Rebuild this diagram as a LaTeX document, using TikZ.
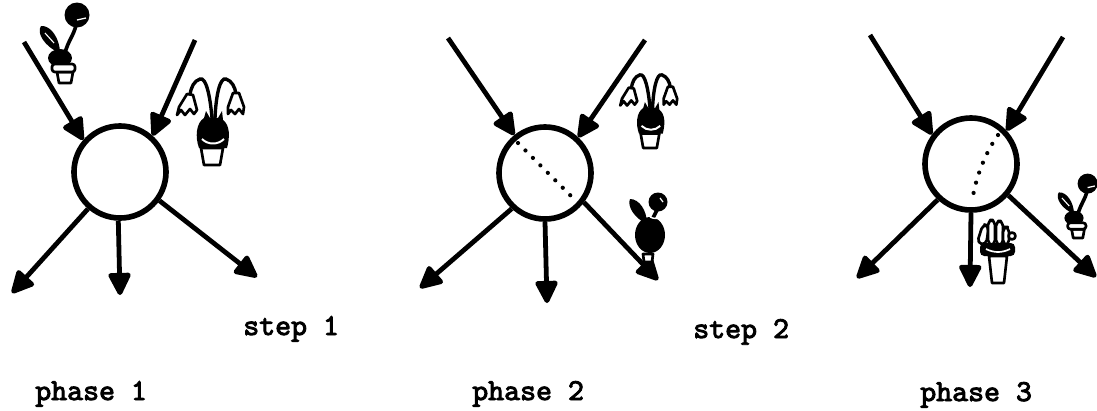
\documentclass[tikz,border=0pt]{standalone}
\usepackage{fontspec}
\newfontfamily\typew{lmmono10-regular.otf}[FakeBold=3]
\usetikzlibrary{arrows.meta,calc}
\tikzset{
  potline/.style={line width=1.9pt,line join=round},
  flowerpot/.pic={
    \draw[potline,fill=white] (-8,-11) -- (8,-11) -- (6,0) -- (-6,0) -- cycle;
    \fill (-5,-25) ellipse (12 and 9);
    \draw[potline,fill=white,rounded corners=2] (-13,-19) rectangle (10,-11);
    \fill (-5,-30) .. controls (-20,-36) and (-29,-50) .. (-24,-57) .. controls (-14,-58) and (-5,-44) .. cycle;
    \draw[white,line width=0.8pt] (-20,-50) -- (-11,-40);
    \draw[line width=2.6pt] (0,-30) .. controls (3,-42) and (9,-48) .. (11,-58);
    \fill (12,-68) circle (12.5);
    \draw[white,line width=0.9pt] (12,-63) .. controls (15,-65) and (18,-63) .. (21,-65);
  },
  darkflower/.pic={
    \fill (2,-27) ellipse (15 and 18);
    \fill (-1,-38) .. controls (-14,-44) and (-21,-56) .. (-18,-63) .. controls (-9,-63) and (-1,-52) .. cycle;
    \draw[line width=2.6pt] (4,-42) -- (9,-52);
    \fill (10,-60) circle (9.5);
    \draw[white,line width=0.9pt] (12,-64) -- (15,-60);
    \draw[white,line width=1pt] (2,-45) .. controls (6,-43) and (10,-43) .. (14,-45);
    \draw[potline,fill=white] (-5,-8) -- (5,-8) -- (4,0) -- (-4,0) -- cycle;
  },
  wilted/.pic={
    \draw[potline,fill=white] (-11,-17) -- (11,-17) -- (8,0) -- (-8,0) -- cycle;
    \fill (-13,-17) .. controls (-17,-28) and (-16,-42) .. (-8,-47) -- (-6,-54) -- (-2,-47)
      .. controls (1,-48) and (4,-48) .. (6,-47) -- (10,-54) -- (11,-45)
      .. controls (18,-40) and (18,-28) .. (15,-17) -- cycle;
    \draw[white,line width=1.4pt] (-10,-26) .. controls (-4,-20) and (6,-20) .. (12,-26);
    \draw[line width=2.4pt] (0,-47) .. controls (-2,-70) and (-6,-88) .. (-12,-86) .. controls (-18,-84) and (-21,-78) .. (-22,-70);
    \draw[line width=2.4pt] (3,-47) .. controls (4,-70) and (8,-88) .. (14,-86) .. controls (20,-84) and (23,-78) .. (24,-71);
    \draw[potline,fill=white] (-25,-71) -- (-19,-70) -- (-15,-55) -- (-18,-51) -- (-22,-56) -- (-27,-50) -- (-31,-55) -- (-35,-50) -- (-33,-58) -- cycle;
    \draw[potline,fill=white] (21,-72) -- (27,-72) -- (32,-58) -- (31,-51) -- (27,-56) -- (23,-51) -- (19,-55) -- (16,-51) -- (16,-58) -- cycle;
  },
  cactus/.pic={
    \draw[potline,fill=white] (-9,-27) -- (9,-27) -- (6,0) -- (-6,0) -- cycle;
    \draw[potline,fill=white,rounded corners=3.5] (-21,-40) -- (-15,-59) -- (-9,-57) -- (-12,-38) -- cycle;
    \draw[potline,fill=white,rounded corners=3.5] (-10,-38) rectangle (-3,-63);
    \draw[potline,fill=white,rounded corners=3.5] (-2,-38) rectangle (5,-62);
    \draw[potline,fill=white,rounded corners=3.5] (5,-38) rectangle (11,-56);
    \draw[potline,fill=white] (14,-47) circle (3.5);
    \fill[rounded corners=3] (-18,-40) rectangle (17,-27);
    \draw[white,line width=1.2pt] (-12,-34) .. controls (-4,-30) and (4,-30) .. (12,-34);
  }
}
\begin{document}
\begin{tikzpicture}[x=0.025cm,y=-0.025cm,
  hub/.style={circle,draw,line width=4pt,minimum size=2.3cm,inner sep=0pt},
  flow/.style={line width=3.4pt,-{Triangle[length=18pt,width=17pt,round]}},
  dots/.style={line width=3pt,line cap=round,dash pattern=on 0pt off 7.5pt},
  lbl/.style={anchor=base west,inner sep=0pt,font=\fontsize{21.6}{24}\selectfont\typew}]
\useasboundingbox (0,0) rectangle (1097,410);

% phase 1
\node[hub] (c1) at (120,172) {};
\coordinate (s1a) at (24,42);
\coordinate (s1b) at (195,40);
\coordinate (e1a) at (12,293);
\coordinate (e1b) at (120,295);
\coordinate (e1c) at (257,277);
\draw[flow] (s1a) -- (c1.139);
\draw[flow] (s1b) -- (c1.48);
\draw[flow] (c1.229) -- (e1a);
\draw[flow] (c1.268) -- (e1b);
\draw[flow] (c1.324) -- (e1c);
\pic at (65,83) {flowerpot};
\pic at (212,165) {wilted};

% phase 2
\node[hub] (c2) at (545,173) {};
\coordinate (s2a) at (448,38);
\coordinate (s2b) at (645,40);
\coordinate (e2a) at (420,288);
\coordinate (e2b) at (547,303);
\coordinate (e2c) at (658,280);
\draw[flow] (s2a) -- (c2.129);
\draw[flow] (s2b) -- (c2.47);
\draw[flow] (c2.227) -- (e2a);
\draw[flow] (c2.270) -- (e2b);
\draw[flow] (c2.323) -- (e2c);
\draw[dots] ($(c2)+(-27,-30)$) -- ($(c2)+(30,27)$);
\pic[scale=0.85] at (650,148) {wilted};
\pic at (648,262) {darkflower};

% phase 3
\node[hub] (c3) at (971,164) {};
\coordinate (s3a) at (870,35);
\coordinate (s3b) at (1063,37);
\coordinate (e3a) at (857,278);
\coordinate (e3b) at (970,287);
\coordinate (e3c) at (1096,277);
\draw[flow] (s3a) -- (c3.143);
\draw[flow] (s3b) -- (c3.43);
\draw[flow] (c3.227) -- (e3a);
\draw[flow] (c3.270) -- (e3b);
\draw[flow] (c3.320) -- (e3c);
\draw[dots] ($(c3)+(27,-29)$) .. controls ($(c3)+(12,-8)$) and ($(c3)+(3,20)$) .. ($(c3)+(1,39)$);
\pic at (998,283) {cactus};
\pic[scale=0.8] at (1078,238) {flowerpot};

% labels
\node[lbl] (st1) at (243,335) {step 1};
\node[lbl] (st2) at (693,338) {step 2};
\node[lbl] (ph1) at (35,400) {phase 1};
\node[lbl] (ph2) at (472,400) {phase 2};
\node[lbl] (ph3) at (920,401) {phase 3};
\end{tikzpicture}
\end{document}
